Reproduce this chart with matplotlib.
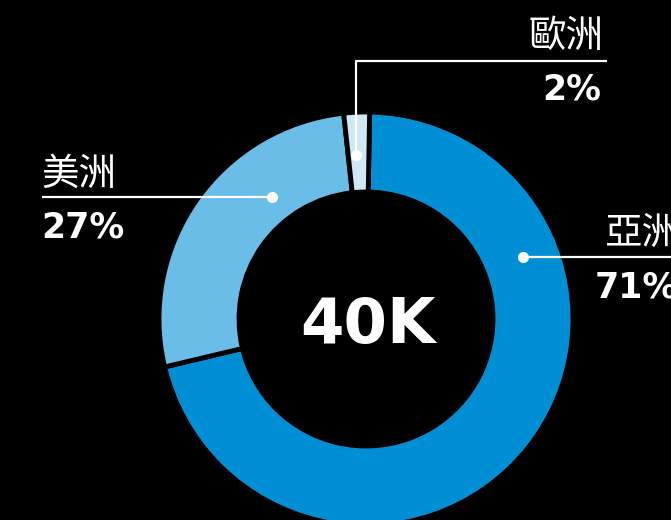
import matplotlib
matplotlib.use("Agg")
import matplotlib.pyplot as plt

# data
regions = ["亞洲", "美洲", "歐洲"]
shares = [71, 27, 2]
share_labels = ["71%", "27%", "2%"]
colors = ["#008fd5", "#6abde6", "#cfe8f7"]
total_label = "40K"

W, H = 671, 520
CJK = ["Noto Sans CJK TC", "DejaVu Sans"]


def Y(y):
    # pixel row (from top) -> data y (from bottom)
    return H - y


fig = plt.figure(figsize=(W / 100, H / 100), dpi=100, facecolor="black")
ax = fig.add_axes([0, 0, 1, 1])
ax.set_facecolor("black")

ax.pie(
    shares,
    colors=colors,
    startangle=89,
    counterclock=False,
    radius=207,
    center=(366, Y(319)),
    wedgeprops=dict(width=80, edgecolor="black", linewidth=3.5),
)
ax.set_xlim(0, W)
ax.set_ylim(0, H)
ax.set_aspect("equal")
ax.axis("off")

# centre label
ax.text(367.5, Y(343), total_label, color="white", fontsize=45,
        fontweight="bold", ha="center", va="baseline", family="DejaVu Sans")

# leader lines (pixel layout)
line_kw = dict(color="white", lw=1.6, solid_capstyle="butt")
dot_kw = dict(marker="o", color="white", markersize=7, linestyle="none")

# Asia - right side (labels run off the right edge, as in the original)
ax.plot([523, W], [Y(257), Y(257)], **line_kw)
ax.plot([523], [Y(257)], **dot_kw)
ax.text(679, Y(244), regions[0], color="white", fontsize=27, ha="right",
        va="baseline", family=CJK)
ax.text(678, Y(297), share_labels[0], color="white", fontsize=25,
        fontweight="bold", ha="right", va="baseline", family="DejaVu Sans")

# Americas - left side
ax.plot([42, 272], [Y(197), Y(197)], **line_kw)
ax.plot([272], [Y(197)], **dot_kw)
ax.text(41, Y(185), regions[1], color="white", fontsize=27, ha="left",
        va="baseline", family=CJK)
ax.text(41, Y(237), share_labels[1], color="white", fontsize=25,
        fontweight="bold", ha="left", va="baseline", family="DejaVu Sans")

# Europe - top
ax.plot([356, 356, 607], [Y(155), Y(61), Y(61)], **line_kw)
ax.plot([356], [Y(155)], **dot_kw)
ax.text(604, Y(47), regions[2], color="white", fontsize=27, ha="right",
        va="baseline", family=CJK)
ax.text(601, Y(99), share_labels[2], color="white", fontsize=25,
        fontweight="bold", ha="right", va="baseline", family="DejaVu Sans")

fig.savefig("out.png", dpi=100, facecolor="black")
